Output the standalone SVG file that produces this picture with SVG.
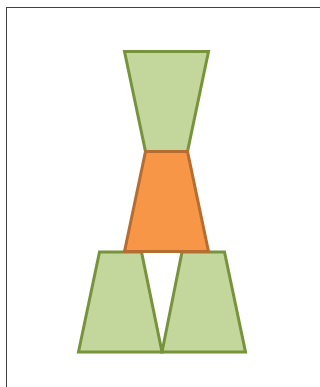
<svg xmlns="http://www.w3.org/2000/svg" width="320" height="387" viewBox="0 0 320 387">
<style>
.g{fill:#C3D69B;stroke:#77933C;stroke-width:3;stroke-linejoin:miter}
.o{fill:#F79646;stroke:#B66D31;stroke-width:3;stroke-linejoin:miter}
</style>
<rect x="6.5" y="7.5" width="330" height="400" fill="#fff" stroke="#404040" stroke-width="1"/>
<g id="top"><polygon class="g" points="124.5,51.5 208.5,51.5 187.5,151.5 145.5,151.5"/></g>
<g id="bottom-left"><polygon class="g" points="99.5,252 141.5,252 162,352 78.5,352"/></g>
<g id="bottom-right"><polygon class="g" points="182,252 224.5,252 245.5,352 162,352"/></g>
<g id="middle"><polygon class="o" points="145.5,151.5 187.5,151.5 208.5,251.5 124.5,251.5"/></g>
<g id="connectors"></g>
</svg>
